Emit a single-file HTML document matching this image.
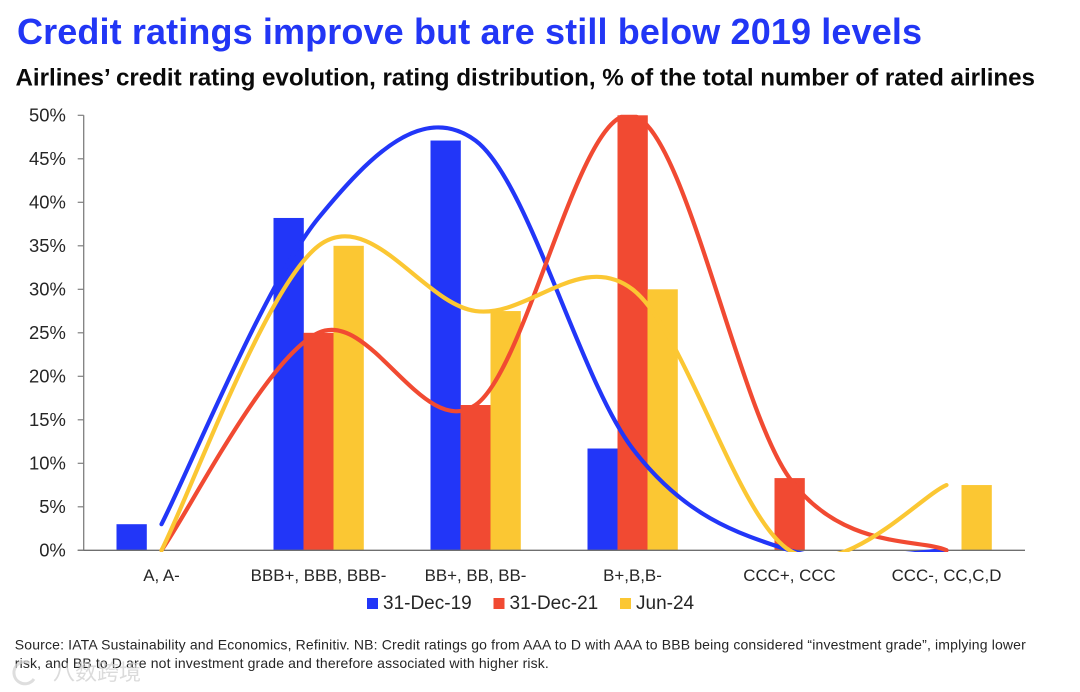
<!DOCTYPE html>
<html lang="en">
<head>
<meta charset="utf-8">
<title>Credit ratings improve but are still below 2019 levels</title>
<style>
html,body{margin:0;padding:0;background:#fff;}
body{width:1080px;height:692px;overflow:hidden;}
svg{display:block;font-family:"Liberation Sans","Noto Sans CJK SC",sans-serif;}
</style>
</head>
<body>
<svg id="chart" width="1080" height="692" viewBox="0 0 1080 692" xmlns="http://www.w3.org/2000/svg">
  <defs>
    <clipPath id="plot-clip"><rect x="83" y="114.8" width="960" height="437.2"></rect></clipPath>
  </defs>
  <text x="17" y="44" font-size="36" font-weight="700" fill="#2236f5" textLength="905" lengthAdjust="spacing">Credit ratings improve but are still below 2019 levels</text>
  <text x="15.5" y="85.5" font-size="24.2" font-weight="700" fill="#0a0a0a" textLength="1019.5" lengthAdjust="spacing">Airlines’ credit rating evolution, rating distribution, % of the total number of rated airlines</text>
  <g id="bars"></g>
  <g id="axes"></g>
  <g id="lines" clip-path="url(#plot-clip)"></g>
  <g id="legend"></g>
  <text x="14.8" y="649.5" font-size="14" fill="#262626" textLength="1011" lengthAdjust="spacing">Source: IATA Sustainability and Economics, Refinitiv. NB: Credit ratings go from AAA to D with AAA to BBB being considered “investment grade”, implying lower</text>
  <text x="14.8" y="668" font-size="14" fill="#262626" textLength="534" lengthAdjust="spacing">risk, and BB to D are not investment grade and therefore associated with higher risk.</text>
  <g opacity="0.75">
    <path d="M30 663 A11 11 0 1 0 34 679" fill="none" stroke="#d4d4d4" stroke-width="3"></path>
    <text x="53" y="680" font-size="22" fill="#cfcfcf" textLength="88" lengthAdjust="spacing">八数跨境</text>
  </g>
</svg>
<script>
const categories = ["A, A-", "BBB+, BBB, BBB-", "BB+, BB, BB-", "B+,B,B-", "CCC+, CCC", "CCC-, CC,C,D"];
const tickLabels = ["0%", "5%", "10%", "15%", "20%", "25%", "30%", "35%", "40%", "45%", "50%"];
const tickValues = [0, 5, 10, 15, 20, 25, 30, 35, 40, 45, 50];
const seriesNames = ["31-Dec-19", "31-Dec-21", "Jun-24"];
const dec19 = [3, 38.2, 47.1, 11.7, 0, 0];
const dec21 = [0, 25, 16.7, 50, 8.3, 0];
const jun24 = [0, 35, 27.5, 30, 0, 7.5];

const NS = "http://www.w3.org/2000/svg";
const COLORS = ["#2236f8", "#f14a32", "#fbc733"];
const PLOT = {left: 83, right: 1025, top: 115.3, bottom: 550.3, max: 50};
const AXIS_X = 83.7;
const BAR_W = 30;
const allSeries = [dec19, dec21, jun24];

function yScale(v) { return PLOT.bottom - (v / PLOT.max) * (PLOT.bottom - PLOT.top); }
function xScale(i) { return PLOT.left + (i + 0.5) * (PLOT.right - PLOT.left) / categories.length; }
function make(tag, attrs, parent) {
  const el = document.createElementNS(NS, tag);
  for (const k in attrs) el.setAttribute(k, attrs[k]);
  parent.appendChild(el);
  return el;
}
function smoothPath(vals) {
  let d = "M" + xScale(0) + " " + yScale(vals[0]);
  for (let i = 0; i < vals.length - 1; i++) {
    const x0 = xScale(Math.max(i - 1, 0)), y0 = yScale(vals[Math.max(i - 1, 0)]);
    const x1 = xScale(i), y1 = yScale(vals[i]);
    const x2 = xScale(i + 1), y2 = yScale(vals[i + 1]);
    const x3 = xScale(Math.min(i + 2, vals.length - 1)), y3 = yScale(vals[Math.min(i + 2, vals.length - 1)]);
    const c1x = x1 + (x2 - x0) / 6, c1y = y1 + (y2 - y0) / 6;
    const c2x = x2 - (x3 - x1) / 6, c2y = y2 - (y3 - y1) / 6;
    d += " C" + c1x + " " + c1y + " " + c2x + " " + c2y + " " + x2 + " " + y2;
  }
  return d;
}

const barsG = document.getElementById("bars");
const axesG = document.getElementById("axes");
const linesG = document.getElementById("lines");
const legendG = document.getElementById("legend");

allSeries.forEach(function (vals, s) {
  vals.forEach(function (v, i) {
    if (v <= 0) return;
    const bar = make("rect", {x: xScale(i) + (s - 1) * BAR_W - BAR_W / 2, y: yScale(v), width: BAR_W + 0.3, height: PLOT.bottom - yScale(v), fill: COLORS[s]}, barsG);
    
    
  });
});

const yAxisLine = make("line", {x1: AXIS_X, x2: AXIS_X, y1: PLOT.top, y2: PLOT.bottom, stroke: "#7f7f7f", "stroke-width": 1.3}, axesG);


const xAxisLine = make("line", {x1: AXIS_X - 6, x2: PLOT.right, y1: PLOT.bottom, y2: PLOT.bottom, stroke: "#6f6f6f", "stroke-width": 1.3}, axesG);



tickValues.forEach(function (v, i) {
  const tick = make("line", {x1: AXIS_X - 6, x2: AXIS_X, y1: yScale(v), y2: yScale(v), stroke: "#7f7f7f", "stroke-width": 1.2}, axesG);
  
  
  const label = make("text", {x: 65.8, y: yScale(v) + 6.4, "text-anchor": "end", "font-size": 18.4, fill: "#262626"}, axesG);
  
  
  label.textContent = tickLabels[i];
});

categories.forEach(function (c, i) {
  const label = make("text", {x: xScale(i), y: 581, "text-anchor": "middle", "font-size": 16.9, fill: "#262626"}, axesG);
  
  
  label.textContent = c;
});

allSeries.forEach(function (vals, s) {
  const line = make("path", {d: smoothPath(vals), fill: "none", stroke: COLORS[s], "stroke-width": 4.2, "stroke-linecap": "round", "stroke-linejoin": "round"}, linesG);
  
  
});

let legendX = 367;
seriesNames.forEach(function (name, s) {
  const swatch = make("rect", {x: legendX, y: 598, width: 11, height: 11, fill: COLORS[s]}, legendG);
  
  
  const text = make("text", {x: legendX + 16, y: 609, "font-size": 19, fill: "#262626"}, legendG);
  
  
  text.textContent = name;
  legendX += 126.5;
});
</script>
</body>
</html>
